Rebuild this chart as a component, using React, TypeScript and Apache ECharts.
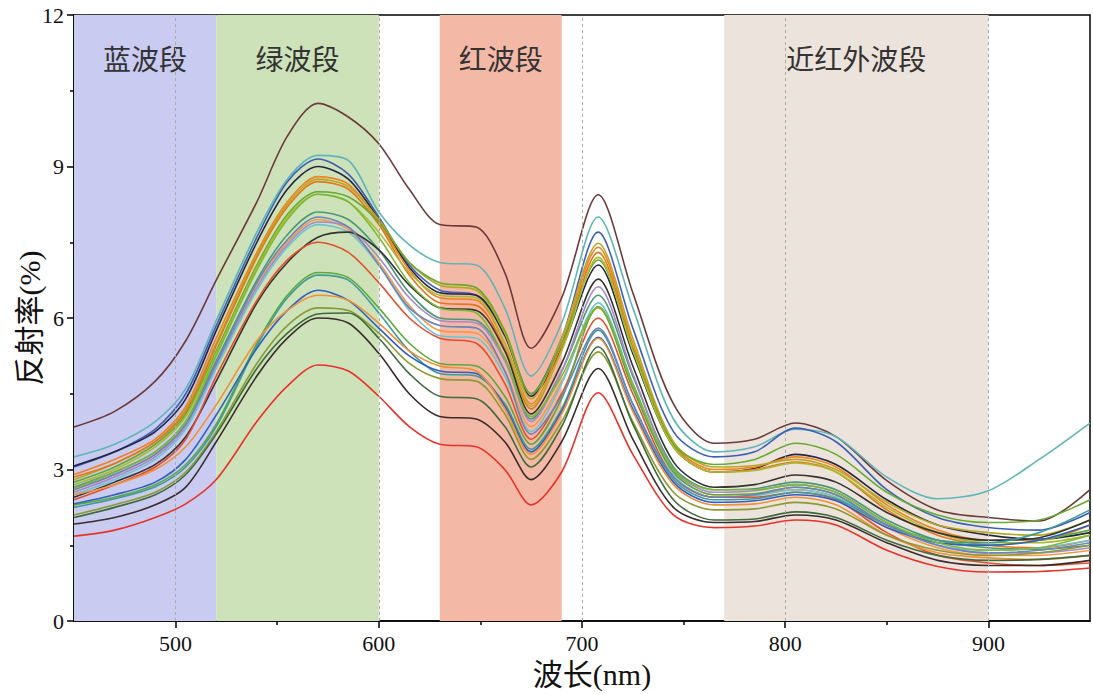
import React, { useEffect, useRef } from "react";
import * as echarts from "echarts";

// wavelengths (nm)
const wavelengths = [450, 470, 490, 505, 520, 540, 555, 570, 585, 600, 615, 630, 648, 662, 675, 690, 708, 725, 745, 765, 785, 805, 825, 850, 875, 900, 925, 950];

const s01 = [3.84, 4.15, 4.75, 5.55, 6.75, 8.3, 9.6, 10.25, 9.98, 9.45, 8.55, 7.85, 7.8, 6.9, 5.4, 6.4, 8.44, 6.5, 4.3, 3.52, 3.6, 3.92, 3.65, 2.78, 2.2, 2.05, 1.98, 2.6];
const s02 = [3.25, 3.5, 3.95, 4.6, 5.95, 7.7, 8.75, 9.22, 9.12, 8.1, 7.45, 7.1, 7.05, 6.2, 4.85, 5.9, 8.0, 6.2, 4.0, 3.35, 3.45, 3.8, 3.65, 2.85, 2.42, 2.58, 3.2, 3.92];
const s03 = [3.05, 3.35, 3.8, 4.5, 5.85, 7.6, 8.7, 9.15, 8.85, 8.0, 7.05, 6.55, 6.45, 5.7, 4.5, 5.6, 7.7, 5.8, 3.75, 3.25, 3.35, 3.82, 3.55, 2.6, 2.05, 1.85, 1.8, 2.15];
const s04 = [3.07, 3.35, 3.75, 4.4, 5.75, 7.5, 8.55, 9.0, 8.75, 7.95, 7.0, 6.5, 6.45, 5.65, 4.45, 5.4, 7.05, 5.3, 3.45, 2.95, 3.02, 3.3, 3.1, 2.4, 1.9, 1.7, 1.62, 1.75];
const s05 = [2.9, 3.2, 3.6, 4.25, 5.6, 7.3, 8.3, 8.8, 8.65, 7.9, 6.95, 6.4, 6.35, 5.5, 4.3, 5.5, 7.4, 5.5, 3.5, 3.0, 3.05, 3.25, 3.05, 2.3, 1.8, 1.6, 1.6, 1.9];
const s06 = [2.8, 3.12, 3.55, 4.2, 5.5, 7.25, 8.25, 8.75, 8.6, 7.95, 7.1, 6.65, 6.55, 5.7, 4.4, 5.6, 7.48, 5.6, 3.55, 3.05, 3.08, 3.2, 3.0, 2.35, 1.9, 1.75, 1.7, 2.0];
const s07 = [2.85, 3.12, 3.55, 4.15, 5.45, 7.2, 8.2, 8.7, 8.55, 7.85, 6.85, 6.3, 6.25, 5.4, 4.2, 5.4, 7.3, 5.4, 3.45, 2.95, 3.0, 3.15, 2.95, 2.2, 1.7, 1.5, 1.45, 1.6];
const s08 = [2.75, 3.05, 3.5, 4.1, 5.35, 7.05, 8.05, 8.5, 8.4, 7.9, 7.1, 6.7, 6.6, 5.75, 4.5, 5.5, 7.15, 5.4, 3.5, 3.1, 3.2, 3.52, 3.3, 2.55, 2.1, 1.95, 2.0, 2.4];
const s09 = [2.7, 3.0, 3.45, 4.05, 5.3, 7.0, 8.0, 8.45, 8.3, 7.7, 6.9, 6.45, 6.4, 5.5, 4.25, 5.35, 7.2, 5.35, 3.45, 2.95, 2.98, 3.13, 2.95, 2.25, 1.75, 1.55, 1.55, 1.7];
const s10 = [2.65, 2.95, 3.35, 3.95, 5.15, 6.75, 7.65, 8.1, 7.95, 7.35, 6.5, 6.0, 5.95, 5.2, 4.0, 4.95, 6.45, 4.85, 3.05, 2.6, 2.62, 2.75, 2.6, 2.0, 1.6, 1.45, 1.42, 1.5];
const s11 = [2.6, 2.9, 3.3, 3.9, 5.05, 6.65, 7.5, 7.95, 7.75, 7.1, 6.25, 5.75, 5.7, 4.95, 3.85, 4.75, 6.2, 4.65, 2.95, 2.5, 2.52, 2.6, 2.45, 1.85, 1.45, 1.3, 1.3, 1.4];
const s12 = [2.55, 2.85, 3.25, 3.85, 5.05, 6.6, 7.45, 7.9, 7.8, 7.2, 6.4, 5.95, 5.9, 5.15, 3.95, 4.95, 6.62, 4.9, 3.0, 2.55, 2.58, 2.7, 2.55, 1.95, 1.5, 1.35, 1.35, 1.45];
const s13 = [2.5, 2.8, 3.2, 3.8, 5.0, 6.55, 7.4, 7.85, 7.7, 7.05, 6.15, 5.65, 5.6, 4.85, 3.75, 4.7, 6.3, 4.7, 2.9, 2.45, 2.48, 2.6, 2.45, 1.9, 1.5, 1.4, 1.45, 1.6];
const s14 = [2.45, 2.75, 3.1, 3.65, 4.75, 6.3, 7.1, 7.6, 7.7, 7.35, 6.65, 6.2, 6.15, 5.35, 4.1, 5.1, 6.77, 5.05, 3.15, 2.65, 2.7, 2.89, 2.75, 2.15, 1.75, 1.6, 1.65, 2.0];
const s15 = [2.4, 2.7, 3.05, 3.6, 4.85, 6.35, 7.15, 7.5, 7.3, 6.7, 6.0, 5.6, 5.5, 4.7, 3.6, 4.5, 6.0, 4.5, 2.85, 2.45, 2.45, 2.55, 2.4, 1.75, 1.3, 1.15, 1.1, 1.15];
const s16 = [2.3, 2.45, 2.7, 3.1, 3.9, 5.5, 6.45, 6.9, 6.8, 6.2, 5.5, 5.1, 5.05, 4.45, 3.5, 4.4, 6.22, 4.6, 2.95, 2.5, 2.52, 2.65, 2.5, 1.9, 1.6, 1.5, 1.6, 1.8];
const s17 = [2.25, 2.42, 2.66, 3.05, 3.85, 5.45, 6.4, 6.85, 6.75, 6.1, 5.35, 4.9, 4.85, 4.3, 3.4, 4.2, 5.76, 4.3, 2.8, 2.4, 2.42, 2.55, 2.42, 1.9, 1.6, 1.55, 1.75, 2.2];
const s18 = [2.32, 2.5, 2.75, 3.2, 4.08, 5.4, 6.15, 6.55, 6.35, 5.8, 5.25, 4.95, 4.9, 4.25, 3.35, 4.15, 5.62, 4.2, 2.75, 2.35, 2.38, 2.5, 2.38, 1.85, 1.55, 1.5, 1.6, 1.9];
const s19 = [2.5, 2.7, 3.0, 3.45, 4.28, 5.55, 6.15, 6.45, 6.35, 5.9, 5.35, 5.05, 4.95, 4.2, 3.3, 4.1, 5.6, 4.15, 2.7, 2.3, 2.32, 2.45, 2.3, 1.7, 1.35, 1.25, 1.22, 1.3];
const s20 = [2.1, 2.3, 2.55, 2.95, 3.75, 5.1, 5.85, 6.2, 6.15, 5.7, 5.1, 4.8, 4.75, 4.1, 3.2, 3.95, 5.33, 3.95, 2.55, 2.2, 2.22, 2.35, 2.22, 1.7, 1.4, 1.3, 1.35, 1.5];
const s21 = [2.05, 2.25, 2.5, 2.9, 3.7, 5.0, 5.7, 6.08, 6.1, 5.6, 4.9, 4.45, 4.4, 3.85, 3.05, 3.85, 5.43, 3.9, 2.4, 2.0, 2.02, 2.16, 2.05, 1.6, 1.3, 1.2, 1.22, 1.3];
const s22 = [1.92, 2.05, 2.3, 2.65, 3.55, 4.85, 5.6, 6.0, 5.9, 5.3, 4.5, 4.05, 4.0, 3.55, 2.8, 3.55, 5.0, 3.6, 2.25, 1.95, 1.97, 2.1, 2.0, 1.55, 1.2, 1.1, 1.1, 1.2];
const s23 = [1.68, 1.8, 2.05, 2.32, 2.8, 3.95, 4.65, 5.07, 4.95, 4.45, 3.85, 3.5, 3.45, 3.0, 2.3, 2.95, 4.52, 3.3, 2.1, 1.85, 1.88, 2.0, 1.9, 1.4, 1.08, 0.97, 0.98, 1.05];
const s24 = [2.6, 2.9, 3.3, 3.9, 5.1, 6.7, 7.55, 8.0, 7.8, 7.05, 6.2, 5.85, 5.8, 4.95, 3.7, 4.45, 5.8, 4.3, 2.85, 2.45, 2.5, 2.65, 2.5, 1.9, 1.5, 1.35, 1.4, 1.55];
const s25 = [2.62, 2.95, 3.35, 3.95, 5.25, 6.95, 7.95, 8.45, 8.3, 7.6, 6.7, 6.2, 6.1, 5.2, 4.05, 4.85, 6.22, 4.7, 3.0, 2.6, 2.6, 2.7, 2.55, 1.95, 1.55, 1.4, 1.45, 1.7];

const spectra = [s01, s02, s03, s04, s05, s06, s07, s08, s09, s10, s11, s12, s13, s14, s15, s16, s17, s18, s19, s20, s21, s22, s23, s24, s25];
const colors = [
  "#6b3a3a", "#5fb5b8", "#3d5fb5", "#25253f", "#f28024", "#b5a824", "#e8741c", "#66aa2e", "#a8bb2c",
  "#4a9878", "#f39a4a", "#a687c9", "#6fc2d2", "#333333", "#e4502a", "#5ea83a", "#3f9a9a", "#2f5fc2",
  "#f0903a", "#8c9a32", "#3e6a3e", "#3a2c2c", "#e83228", "#6a85b8", "#7cb83a",
];

// bands
const bandNames = ["蓝波段", "绿波段", "红波段", "近红外波段"];
const bandStarts = [450, 520, 630, 770];
const bandEnds = [520, 600, 690, 900];
const bandColors = ["#c9cbf1", "#cde2b9", "#f4b9a6", "#ece4dc"];

const xMajor = [500, 600, 700, 800, 900];
const xMinor = [550, 650, 750, 850];

const serif = "'Liberation Serif', 'DejaVu Serif', serif";
const cjk = "'Liberation Serif', 'Noto Sans CJK SC', sans-serif";

export default function App() {
  const ref = useRef<HTMLDivElement>(null);
  useEffect(() => {
    if (!ref.current) return;
    const chart = echarts.init(ref.current, null, { renderer: "svg" });
    const lineSeries = spectra.map((arr, i) => ({
      type: "line",
      name: "S" + (i + 1),
      data: wavelengths.map((w, j) => [w, arr[j]]),
      smooth: 0.3,
      showSymbol: false,
      z: 3,
      lineStyle: { width: 1.6, color: colors[i] },
      itemStyle: { color: colors[i] },
    }));
    const option: any = {
      animation: false,
      grid: {
        left: 74,
        right: 3,
        top: 15,
        bottom: 73,
        outerBoundsMode: "none",
        containLabel: false,
        show: true,
        borderColor: "#000",
        borderWidth: 1.5,
        backgroundColor: "transparent",
      },
      xAxis: [
        {
          type: "value",
          min: 450,
          max: 950,
          name: "波长(nm)",
          nameLocation: "middle",
          nameGap: 38,
          nameTextStyle: { fontSize: 30, color: "#111", fontFamily: cjk, padding: [0, 0, 0, 20] },
          axisLine: { lineStyle: { color: "#000", width: 1.5 } },
          axisTick: { show: true, customValues: xMajor, length: 7, lineStyle: { color: "#000", width: 1.5 } },
          axisLabel: { customValues: xMajor, fontSize: 22, color: "#111", fontFamily: serif, margin: 11 },
          splitLine: { show: false },
        },
        {
          type: "value",
          min: 450,
          max: 950,
          position: "bottom",
          axisLine: { show: false },
          axisTick: { show: true, customValues: xMinor, length: 4, lineStyle: { color: "#000", width: 1.5 } },
          axisLabel: { show: false },
          splitLine: { show: false },
        },
      ],
      yAxis: {
        type: "value",
        min: 0,
        max: 12,
        interval: 3,
        name: "反射率(%)",
        nameLocation: "middle",
        nameGap: 30,
        nameMoveOverlap: false,
        nameRotate: 90,
        nameTextStyle: { fontSize: 30, color: "#111", fontFamily: cjk },
        axisLine: { show: true, lineStyle: { color: "#000", width: 1.5 } },
        axisTick: { show: true, length: 7, lineStyle: { color: "#000", width: 1.5 } },
        minorTick: { show: true, splitNumber: 2, length: 4, lineStyle: { color: "#000", width: 1.5 } },
        axisLabel: { fontSize: 22, color: "#111", fontFamily: serif, margin: 10 },
        splitLine: { show: false },
      },
      series: [
        {
          type: "line",
          name: "bands",
          data: [],
          z: 1,
          silent: true,
          markArea: {
            silent: true,
            data: bandNames.map((n, i) => [
              {
                name: n,
                xAxis: bandStarts[i],
                itemStyle: { color: bandColors[i] },
                label: {
                  show: true,
                  position: "insideTop",
                  distance: 31,
                  fontSize: 28,
                  color: "#333",
                  fontFamily: cjk,
                },
              },
              { xAxis: bandEnds[i] },
            ]),
          },
          markLine: {
            silent: true,
            symbol: "none",
            label: { show: false },
            lineStyle: { color: "#aaaaaa", type: [3, 3], width: 1 },
            data: xMajor.map((v) => ({ xAxis: v })),
          },
        },
        ...lineSeries,
      ],
    };
    chart.setOption(option);
    return () => chart.dispose();
  }, []);
  return <div ref={ref} style={{ position: "absolute", left: 0, top: 0, width: 1093, height: 694 }} />;
}
